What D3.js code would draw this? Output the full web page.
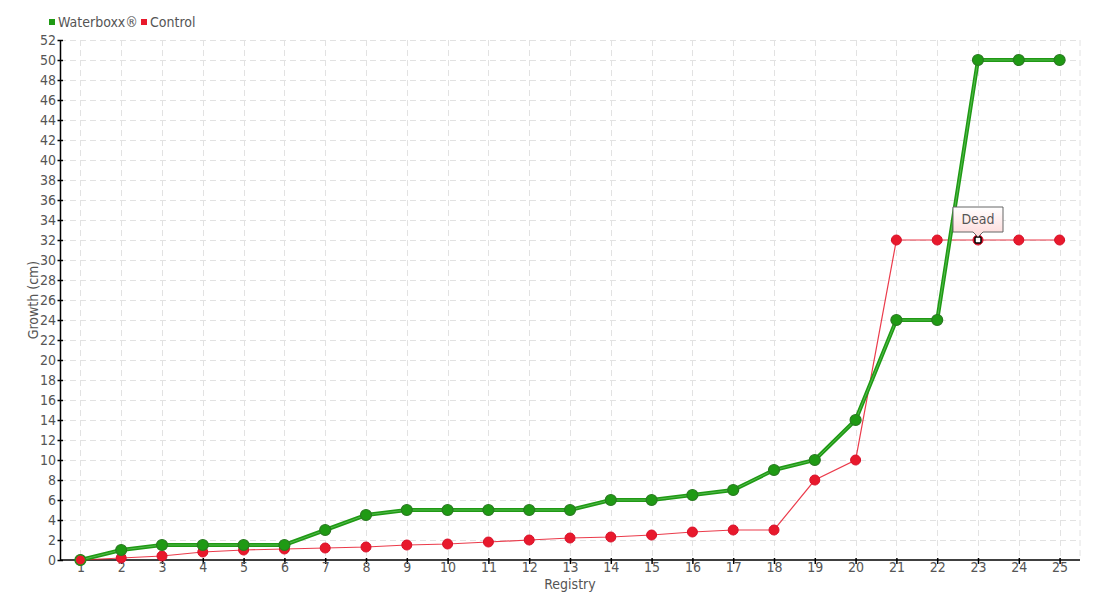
<!DOCTYPE html>
<html>
<head>
<meta charset="utf-8">
<script src="https://cdn.jsdelivr.net/npm/d3@7"></script>
<style>
  html, body { margin: 0; padding: 0; background: #fff; }
  svg { display: block; }
  text { font-family: "DejaVu Sans Condensed", "DejaVu Sans", sans-serif; font-stretch: condensed; fill: #555; }
</style>
</head>
<body>
<svg id="chart" width="1100" height="600"></svg>
<script>
const categories = ["1","2","3","4","5","6","7","8","9","10","11","12","13","14","15","16","17","18","19","20","21","22","23","24","25"];
const waterboxx = [0,1,1.5,1.5,1.5,1.5,3,4.5,5,5,5,5,5,6,6,6.5,7,9,10,14,24,24,50,50,50];
const control = [0,0.2,0.4,0.8,1,1.1,1.2,1.3,1.5,1.6,1.8,2,2.2,2.3,2.5,2.8,3,3,8,10,32,32,32,32,32];
const yTicks = d3.range(0, 53, 2);
const seriesNames = ["Waterboxx®", "Control"];
const tooltipIndex = 22;
const tooltipText = "Dead";

const svg = d3.select("#chart");
const m = {left: 60, right: 20, top: 40, bottom: 40};
const W = 1100, H = 600;
const FS = "14px";

const x = d3.scalePoint().domain(categories).range([m.left, W - m.right]).padding(0.5);
const y = d3.scaleLinear().domain([0, 52]).range([H - m.bottom, m.top]);

// defs
const defs = svg.append("defs");
const grad = defs.append("linearGradient").attr("id", "tipGrad").attr("x1", 0).attr("y1", 0).attr("x2", 0).attr("y2", 1);
grad.append("stop").attr("offset", "0%").attr("stop-color", "#ffffff");
grad.append("stop").attr("offset", "100%").attr("stop-color", "#fdd8d8");

// grid
const grid = svg.append("g");
grid.selectAll("line.h").data(yTicks.filter(d => d > 0)).join("line")
  .attr("x1", m.left).attr("x2", W - m.right)
  .attr("y1", d => y(d) + 0.5).attr("y2", d => y(d) + 0.5)
  .attr("stroke", "#e2e2e2").attr("stroke-dasharray", "6,4");
grid.selectAll("line.v").data(categories).join("line")
  .attr("x1", d => Math.round(x(d)) + 0.5).attr("x2", d => Math.round(x(d)) + 0.5)
  .attr("y1", m.top).attr("y2", H - m.bottom)
  .attr("stroke", "#e2e2e2").attr("stroke-dasharray", "6,4");
grid.append("line").attr("x1", W - m.right).attr("x2", W - m.right).attr("y1", m.top).attr("y2", H - m.bottom)
  .attr("stroke", "#e2e2e2").attr("stroke-dasharray", "6,4");

// axes
const yAxis = svg.append("g").attr("transform", `translate(${m.left},0)`)
  .call(d3.axisLeft(y).tickValues(yTicks).tickSize(2).tickSizeOuter(0).tickPadding(2));
const xAxis = svg.append("g").attr("transform", `translate(0,${H - m.bottom})`)
  .call(d3.axisBottom(x).tickSize(4).tickSizeOuter(0).tickPadding(-2));
[yAxis, xAxis].forEach(a => {
  a.select(".domain").attr("stroke", "#000").attr("stroke-width", 1.5);
  a.selectAll(".tick line").attr("stroke", "#000").attr("stroke-width", 1.5);
  a.selectAll(".tick text").style("font-size", FS).attr("fill", "#555");
});
yAxis.selectAll(".tick line").attr("x2", -2.5).attr("x1", 3);
xAxis.selectAll(".tick line").attr("y1", -2).attr("y2", 4);
xAxis.select(".domain").attr("d", `M${m.left},0H${W - m.right}`);

// axis titles
svg.append("text").attr("x", (m.left + W - m.right) / 2).attr("y", 589)
  .attr("text-anchor", "middle").style("font-size", FS).text("Registry");
svg.append("text").attr("transform", `translate(38,${(m.top + H - m.bottom) / 2}) rotate(-90)`)
  .attr("text-anchor", "middle").style("font-size", FS).text("Growth (cm)");

// lines
const line = d3.line().x((d, i) => x(categories[i])).y(d => y(d));
svg.append("path").datum(control).attr("d", line).attr("fill", "none")
  .attr("stroke", "#e8192c").attr("stroke-width", 1.2).attr("opacity", 0.85);
svg.append("path").datum(waterboxx).attr("d", line).attr("fill", "none")
  .attr("stroke", "#1f9a14").attr("stroke-width", 4);
svg.append("path").datum(waterboxx).attr("d", line).attr("fill", "none")
  .attr("stroke", "#7ed27a").attr("stroke-width", 0.8).attr("opacity", 0.7);

// markers
svg.append("g").selectAll("circle").data(control).join("circle")
  .attr("cx", (d, i) => x(categories[i])).attr("cy", d => y(d)).attr("r", 5)
  .attr("fill", "#e8192c").attr("stroke", "#d8102a").attr("stroke-width", 1);
svg.append("g").selectAll("circle").data(waterboxx).join("circle")
  .attr("cx", (d, i) => x(categories[i])).attr("cy", d => y(d)).attr("r", 5.5)
  .attr("fill", "#1f9a14").attr("stroke", "#2a7a22").attr("stroke-width", 1.2);
svg.append("circle").attr("cx", x(categories[0])).attr("cy", y(control[0])).attr("r", 5)
  .attr("fill", "#e8192c").attr("stroke", "#1f9a14").attr("stroke-width", 1);

// hovered point
const hx = x(categories[tooltipIndex]), hy = y(control[tooltipIndex]);
svg.append("rect").attr("x", hx - 3).attr("y", hy - 3).attr("width", 6).attr("height", 6)
  .attr("rx", 1).attr("fill", "#fff").attr("stroke", "#000").attr("stroke-width", 1.5);

// tooltip
const tw = 50, th = 25, tTop = hy - 33;
const tl = hx - 25;
const tip = svg.append("g");
tip.append("path")
  .attr("d", `M${tl},${tTop}H${tl + tw}V${tTop + th}H${hx + 5}L${hx},${tTop + th + 5}L${hx - 5},${tTop + th}H${tl}Z`)
  .attr("fill", "url(#tipGrad)").attr("stroke", "#666").attr("stroke-width", 1);
tip.append("text").attr("x", hx).attr("y", tTop + 17).attr("text-anchor", "middle")
  .style("font-size", FS).attr("fill", "#555").text(tooltipText);

// legend
const legend = svg.append("g").attr("transform", "translate(49,22)");
const lg = [{name: seriesNames[0], color: "#1f9a14", x: 0}, {name: seriesNames[1], color: "#e8192c", x: 92}];
lg.forEach(l => {
  legend.append("rect").attr("x", l.x).attr("y", -3).attr("width", 6).attr("height", 6).attr("fill", l.color);
  legend.append("text").attr("x", l.x + 9).attr("y", 5).style("font-size", FS).attr("fill", "#555").text(l.name);
});
</script>
</body>
</html>
